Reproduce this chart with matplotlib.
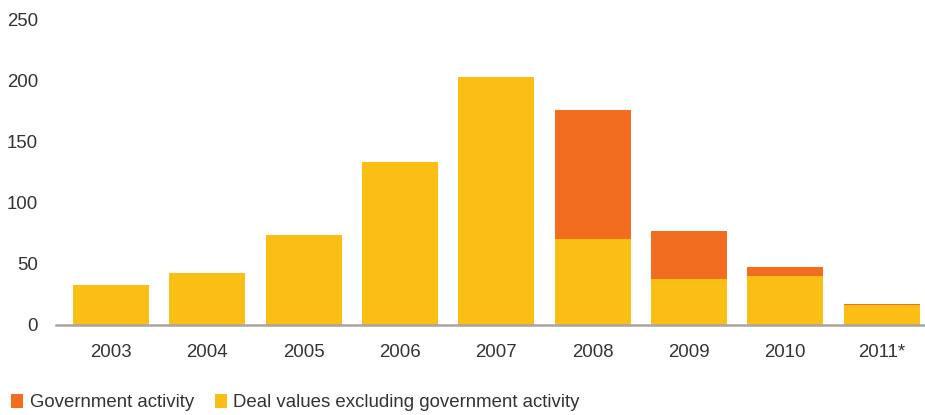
import matplotlib.pyplot as plt
import numpy as np

plt.rcParams['font.family'] = ['Liberation Sans', 'DejaVu Sans']

# Deal values by year (billions)
years = ["2003", "2004", "2005", "2006", "2007", "2008", "2009", "2010", "2011*"]
deal_values = [32.7, 42.5, 73.5, 133, 203, 70.3, 37.6, 40.0, 16.3]
government = [0, 0, 0, 0, 0, 105.4, 39.2, 7.4, 0.9]

YELLOW = "#FBBE14"
ORANGE = "#F36D21"
TEXT = "#333333"

fig = plt.figure(figsize=(9.25, 4.15), dpi=100)
ax = fig.add_axes([0.0605, 0.2169, 0.9395, 0.7373])

x = np.arange(len(years))
ax.bar(x, deal_values, width=0.79, color=YELLOW, label="Deal values excluding government activity")
ax.bar(x, government, width=0.79, bottom=deal_values, color=ORANGE, label="Government activity")

ax.set_xlim(-0.57, 8.45)
ax.set_ylim(0, 250)
ax.set_yticks([0, 50, 100, 150, 200, 250])
ax.set_xticks(x)
ax.set_xticklabels(years)
ax.tick_params(axis="both", length=0, labelsize=13.4, colors=TEXT)
ax.tick_params(axis="y", pad=13)
ax.tick_params(axis="x", pad=14)

for side in ["top", "right", "left"]:
    ax.spines[side].set_visible(False)
ax.spines["bottom"].set_color("#ABA39C")
ax.spines["bottom"].set_linewidth(1.8)

handles, labels = ax.get_legend_handles_labels()
fig.legend(handles[::-1], labels[::-1], loc="lower left", bbox_to_anchor=(0.0, -0.018),
           ncol=2, frameon=False, fontsize=13.4, handlelength=0.65, handleheight=0.75,
           handletextpad=0.35, columnspacing=1.1, labelcolor=TEXT, borderaxespad=0.2)

fig.savefig("out.png", dpi=100)
